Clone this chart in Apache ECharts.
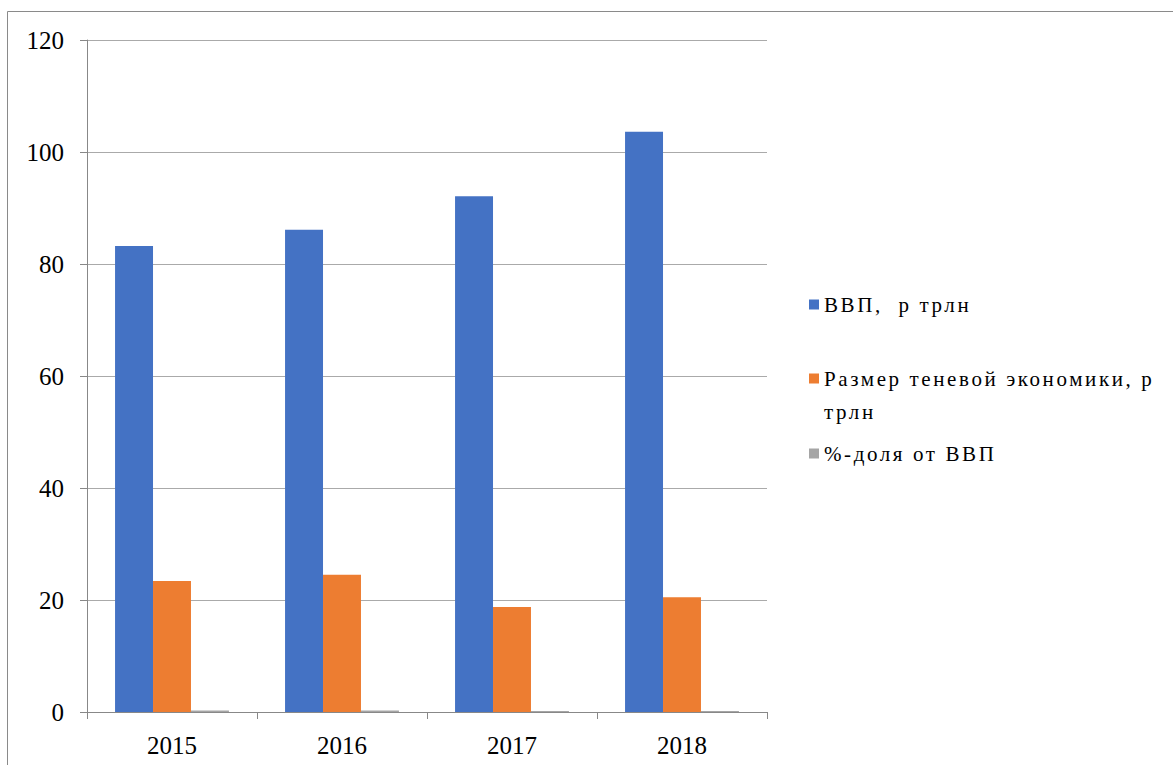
<!DOCTYPE html>
<html>
<head>
<meta charset="utf-8">
<script src="https://cdn.jsdelivr.net/npm/echarts@6/dist/echarts.min.js"></script>
<style>
html,body{margin:0;padding:0;background:#fff}
#c{width:1173px;height:765px}
#c text{white-space:pre}
#c text[fill="#000001"]{letter-spacing:2.6px;font-family:"Liberation Serif",serif}
</style>
</head>
<body>
<div id="c"></div>
<script>
const categories = ['2015', '2016', '2017', '2018'];
const gdp = [83.2, 86.1, 92.1, 103.6];
const shadow = [23.4, 24.5, 18.75, 20.5];
const share = [0.28, 0.285, 0.2, 0.2];
const seriesNames = ['ВВП,  р трлн', 'Размер теневой экономики, р трлн', '%-доля от ВВП'];
const legendLines = [['ВВП,  р трлн'], [' ', 'Размер теневой экономики, р', 'трлн'], ['%-доля от ВВП']];
const yTicks = { min: 0, max: 120, interval: 20 };

const FONT = 'Liberation Serif';
const chart = echarts.init(document.getElementById('c'), null, { renderer: 'svg' });
function legendItem(i, top) {
  return {
    orient: 'vertical', left: 804, top: top, itemWidth: 10, itemHeight: 10,
    icon: 'rect', selectedMode: false, data: [seriesNames[i]],
    formatter: () => legendLines[i].map(s => '{t|' + s + '}').join('\n'),
    textStyle: {
      fontFamily: FONT, fontSize: 21, color: '#000001', lineHeight: 33,
      rich: { t: { fontFamily: FONT, fontSize: 21, color: '#000001', lineHeight: 33 } }
    }
  };
}
chart.setOption({
  animation: false,
  textStyle: { fontFamily: FONT },
  color: ['#4472C4', '#ED7D31', '#A5A5A5'],
  graphic: [{
    type: 'rect', shape: { x: 7.5, y: 11.5, width: 1200, height: 800 },
    style: { fill: 'none', stroke: '#8a8a8a', lineWidth: 1 }, silent: true
  }],
  legend: [legendItem(0, 283), legendItem(1, 324), legendItem(2, 432)],
  grid: { left: 87, right: 406, top: 40, bottom: 53, containLabel: false },
  xAxis: {
    type: 'category', data: categories,
    axisLine: { lineStyle: { color: '#888' } },
    axisTick: { show: true, length: 7, lineStyle: { color: '#888' } },
    axisLabel: { fontFamily: FONT, fontSize: 25, color: '#000', margin: 21 }
  },
  yAxis: {
    type: 'value', min: yTicks.min, max: yTicks.max, interval: yTicks.interval,
    axisLine: { show: true, lineStyle: { color: '#888' } },
    axisTick: { show: true, length: 7, lineStyle: { color: '#888' } },
    splitLine: { lineStyle: { color: '#aaa', width: 1 } },
    axisLabel: { fontFamily: FONT, fontSize: 25, color: '#000', margin: 23 }
  },
  series: [
    { name: seriesNames[0], type: 'bar', data: gdp, barGap: '0%', barCategoryGap: '33%' },
    { name: seriesNames[1], type: 'bar', data: shadow, barGap: '0%', barCategoryGap: '33%' },
    { name: seriesNames[2], type: 'bar', data: share, barGap: '0%', barCategoryGap: '33%' }
  ]
});
</script>
</body>
</html>
